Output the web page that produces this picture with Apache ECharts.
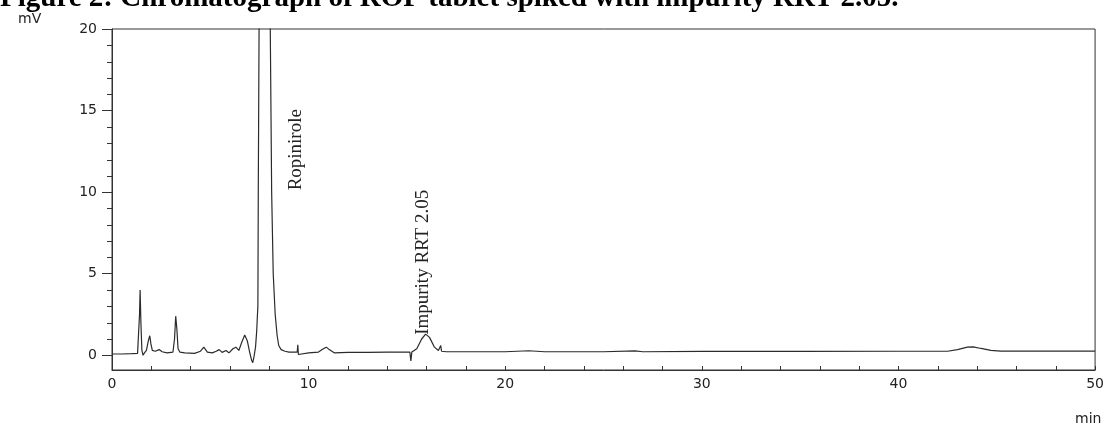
<!DOCTYPE html>
<html>
<head>
<meta charset="utf-8">
<script src="https://cdn.jsdelivr.net/npm/echarts@6/dist/echarts.min.js"></script>
<style>
  html, body { margin: 0; padding: 0; background: #fff; }
  #chart { width: 1107px; height: 427px; }
</style>
</head>
<body>
<div id="chart"></div>
<script>
// retention time (min) and detector signal (mV)
var times = [
  0, 0.5, 1.0, 1.3, 1.36, 1.40, 1.43, 1.47, 1.52, 1.58, 1.65, 1.75, 1.85, 1.92, 1.98, 2.05,
  2.2, 2.4, 2.55, 2.8, 3.1, 3.18, 3.24, 3.30, 3.36, 3.45, 3.7, 4.2, 4.5, 4.67, 4.85,
  5.1, 5.3, 5.45, 5.6, 5.8, 5.95, 6.15, 6.3, 6.45, 6.6, 6.75, 6.88, 7.0, 7.1, 7.16, 7.22,
  7.30, 7.36, 7.39, 7.42, 7.44, 7.48, 7.55, 7.7, 7.85, 7.95, 8.05, 8.12, 8.2, 8.3, 8.4, 8.48,
  8.6, 8.8, 9.0, 9.3, 9.42, 9.45, 9.48, 9.55, 10.0, 10.5, 10.75, 10.9, 11.05, 11.3,
  12, 13, 14, 15, 15.15, 15.2, 15.25, 15.5, 15.75, 15.95, 16.15, 16.4, 16.6, 16.72, 16.76,
  17, 18, 20, 21.2, 22, 25, 26.6, 27, 30, 35, 40, 42.5, 43, 43.5, 43.8, 44.2, 44.7, 45.2, 48, 50
];
var signal = [
  0.08, 0.08, 0.1, 0.12, 0.2, 2.5, 4.0, 2.0, 0.3, 0.0, 0.15, 0.3, 0.9, 1.2, 0.7, 0.3,
  0.25, 0.35, 0.22, 0.15, 0.2, 1.0, 2.4, 1.6, 0.4, 0.2, 0.15, 0.12, 0.25, 0.5, 0.2,
  0.15, 0.25, 0.35, 0.18, 0.3, 0.15, 0.4, 0.5, 0.3, 0.8, 1.25, 0.9, 0.2, -0.3, -0.45, -0.1,
  0.5, 1.5, 2.3, 3.0, 10, 20, 40, 70, 72, 45, 20, 10, 5, 2.5, 1.2, 0.6,
  0.35, 0.25, 0.2, 0.2, 0.2, 0.65, 0.05, 0.15, 0.15, 0.2, 0.4, 0.5, 0.35, 0.15,
  0.18, 0.18, 0.2, 0.2, 0.2, -0.35, 0.2, 0.4, 1.0, 1.3, 1.1, 0.5, 0.3, 0.6, 0.25,
  0.22, 0.22, 0.22, 0.28, 0.22, 0.22, 0.27, 0.22, 0.24, 0.24, 0.25, 0.25, 0.35, 0.5, 0.52, 0.42, 0.3, 0.26, 0.26, 0.26
];

var yLabelValues = [0, 5, 10, 15, 20];
var yMinorValues = [1, 2, 3, 4, 6, 7, 8, 9, 11, 12, 13, 14, 16, 17, 18, 19];

var peakNames = ['Ropinirole', 'Impurity RRT 2.05'];
var peakLabelTimes = [9.35, 15.8];
var peakLabelLevels = [12.6, 5.7];

var titleText = 'Figure 2: Chromatograph of ROP tablet spiked with impurity RRT 2.05.';

var points = times.map(function (t, i) { return [t, signal[i]]; });

var myChart = echarts.init(document.getElementById('chart'));

var axisColor = '#333';
var tickFont = { color: '#222', fontSize: 14, fontFamily: 'DejaVu Sans' };

myChart.setOption({
  animation: false,
  grid: {
    left: 112, right: 10, top: 29, bottom: 57,
    show: true, borderColor: axisColor, borderWidth: 1
  },
  xAxis: {
    type: 'value', min: 0, max: 50, interval: 10,
    axisLine: { show: true, onZero: false, lineStyle: { color: axisColor, width: 1 } },
    axisTick: { show: true, inside: true, length: 4, lineStyle: { color: axisColor } },
    minorTick: { show: true, splitNumber: 5, length: 4, lineStyle: { color: axisColor } },
    axisLabel: Object.assign({ margin: 7 }, tickFont),
    splitLine: { show: false }
  },
  yAxis: {
    type: 'value', min: -0.9, max: 20,
    axisLine: { show: true, onZero: false, lineStyle: { color: axisColor, width: 1 } },
    axisTick: { show: true, length: 10, customValues: yLabelValues, lineStyle: { color: axisColor } },
    axisLabel: Object.assign({ margin: 15, customValues: yLabelValues }, tickFont),
    splitLine: { show: false }
  },
  series: [
    {
      type: 'line',
      data: points,
      showSymbol: false,
      clip: true,
      lineStyle: { color: '#2b2b2b', width: 1.2 },
      markPoint: {
        symbol: 'circle',
        symbolSize: 0,
        itemStyle: { color: 'rgba(0,0,0,0)' },
        label: {
          show: true, position: 'inside', rotate: 90,
          color: '#222', fontSize: 19, fontFamily: 'Liberation Serif',
          formatter: function (p) { return p.name; }
        },
        data: peakNames.map(function (n, i) {
          return { name: n, coord: [peakLabelTimes[i], peakLabelLevels[i]] };
        })
      }
    }
  ]
});

// texts + minor 1 mV ticks on the left axis (placed through the y scale)
var axisX = Math.round(myChart.convertToPixel({ xAxisIndex: 0 }, 0));
var graphics = [
  {
    type: 'text', left: 0, top: -16,
    style: { text: titleText, font: 'bold 29px "Liberation Serif"', fill: '#000' }
  },
  {
    type: 'text', left: 18, top: 12,
    style: { text: 'mV', font: '14px "DejaVu Sans"', fill: '#222' }
  },
  {
    type: 'text', left: 1075, top: 412,
    style: { text: 'min', font: '14px "DejaVu Sans"', fill: '#222' }
  }
];
yMinorValues.forEach(function (v) {
  var py = Math.round(myChart.convertToPixel({ yAxisIndex: 0 }, v)) + 0.5;
  graphics.push({
    type: 'line',
    shape: { x1: axisX - 5, y1: py, x2: axisX, y2: py },
    style: { stroke: axisColor, lineWidth: 1 },
    silent: true
  });
});
myChart.setOption({ graphic: graphics });
</script>
</body>
</html>
